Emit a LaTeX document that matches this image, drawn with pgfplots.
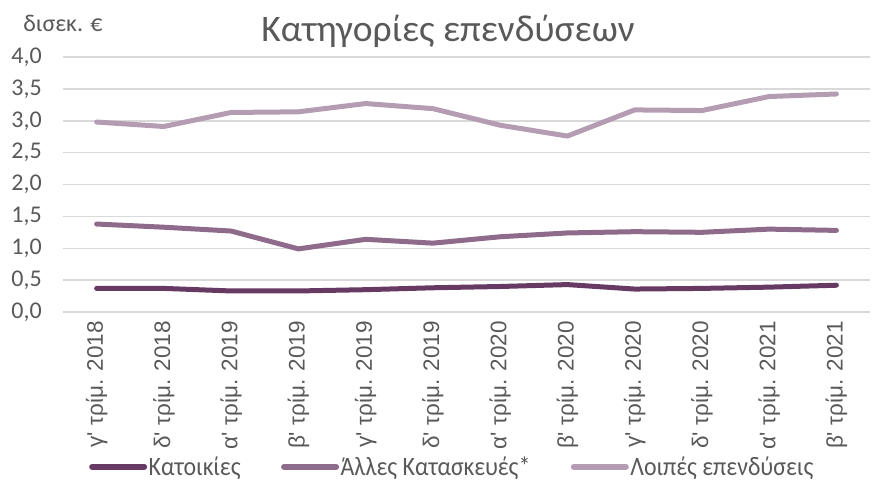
\documentclass[border=0pt]{standalone}
\usepackage{pgfplots}
\pgfplotsset{compat=1.18}
\usepackage{fontspec}
\setmainfont{Carlito}
\newfontfamily\arialfont{Liberation Sans}
\newfontfamily\legfont[FakeStretch=0.9]{Carlito}
\definecolor{cK}{HTML}{663A63}
\definecolor{cA}{HTML}{8E6A8B}
\definecolor{cL}{HTML}{B49CB3}
\definecolor{gridc}{HTML}{D9D9D9}
\definecolor{txt}{HTML}{595959}
\begin{document}
\begin{tikzpicture}
\path[use as bounding box] (-63bp,-170bp) rectangle (810bp,312bp);
\begin{axis}[
  scale only axis, width=807bp, height=255bp,
  xmin=-0.5, xmax=11.5, ymin=0, ymax=4,
  ytick={0,0.5,...,4.0},
  xtick={0,...,11},
  xticklabels={γ' τρίμ. 2018, δ' τρίμ. 2018, α' τρίμ. 2019, β' τρίμ. 2019, γ' τρίμ. 2019, δ' τρίμ. 2019, α' τρίμ. 2020, β' τρίμ. 2020, γ' τρίμ. 2020, δ' τρίμ. 2020, α' τρίμ. 2021, β' τρίμ. 2021},
  xticklabel style={font=\arialfont\fontsize{22.5bp}{26bp}\selectfont, rotate=90, anchor=east, text=txt, inner sep=0pt},
  yticklabel style={font=\fontsize{24bp}{28bp}\selectfont, text=txt, anchor=east, inner sep=0pt},
  yticklabel={\pgfmathprintnumber[fixed,fixed zerofill,precision=1,use comma,assume math mode=true]{\tick}},
  major tick length=0pt,
  xtick pos=bottom,
  xticklabel shift=9bp,
  yticklabel shift=21bp,
  axis line style={draw=none},
  ymajorgrids, grid style={gridc, line width=1.5bp},
  clip=false,
  legend columns=3,
  legend style={draw=none, fill=none, at={(0.482,-0.607)}, anchor=center,
    font=\legfont\fontsize{26.5bp}{30bp}\selectfont, text=txt,
    /tikz/every even column/.append style={column sep=39bp},
    nodes={inner sep=1.5bp},
    inner sep=0pt},
  legend image code/.code={\draw[#1, line width=6bp, line cap=round] (0bp,0bp) -- (52bp,0bp);},
  every axis plot/.append style={line width=5bp, line join=round, line cap=round},
]
\addplot[cK] coordinates {(0,0.37) (1,0.37) (2,0.33) (3,0.33) (4,0.35) (5,0.38) (6,0.40) (7,0.43) (8,0.36) (9,0.37) (10,0.39) (11,0.42)};
\addplot[cA] coordinates {(0,1.38) (1,1.33) (2,1.27) (3,0.99) (4,1.14) (5,1.08) (6,1.18) (7,1.24) (8,1.26) (9,1.25) (10,1.30) (11,1.28)};
\addplot[cL] coordinates {(0,2.98) (1,2.91) (2,3.13) (3,3.14) (4,3.27) (5,3.19) (6,2.93) (7,2.76) (8,3.17) (9,3.16) (10,3.38) (11,3.42)};
\legend{Κατοικίες, Άλλες Κατασκευές*, Λοιπές επενδύσεις}
\node[text=txt, font=\fontsize{37.5bp}{42bp}\selectfont, anchor=center] at (rel axis cs:0.477,1.102) {Κατηγορίες επενδύσεων};
\node[text=txt, font=\fontsize{24bp}{28bp}\selectfont, anchor=center] at (rel axis cs:0.0,1.13) {δισεκ. €};
\end{axis}
\end{tikzpicture}
\end{document}
